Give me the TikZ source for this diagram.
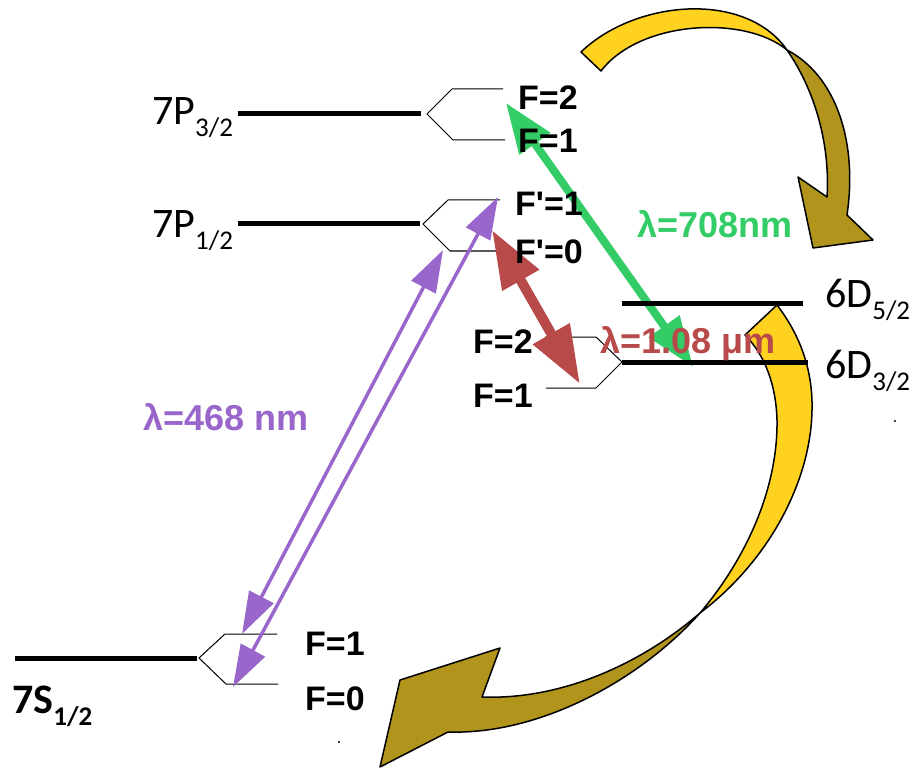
\documentclass[tikz,border=0pt]{standalone}
\usepackage{fontspec}
\setmainfont{Liberation Sans}[Ligatures=TeXOff]
\newfontfamily\calib{Carlito}
\usetikzlibrary{arrows.meta}
\definecolor{violetline}{RGB}{153,102,204}
\definecolor{greenline}{RGB}{51,204,102}
\definecolor{redline}{RGB}{184,74,74}
\definecolor{ribbontop}{RGB}{255,210,31}
\definecolor{ribbonunder}{RGB}{176,148,28}
\newcommand\lsub[1]{\raisebox{-12pt}{\fontsize{27}{27}\selectfont #1}}

\begin{document}
\begin{tikzpicture}[x=1pt,y=-1pt,
  level/.style={line width=5pt},
  fork/.style={line width=1pt, line join=miter},
  ribbon/.style={draw=black, line width=1.5pt, line join=round},
  flabel/.style={anchor=base west, inner sep=0pt, font=\fontsize{34}{40}\selectfont\bfseries},
  lvl/.style={anchor=base west, inner sep=0pt, font=\calib\fontsize{42}{48}\selectfont},
  wl/.style={anchor=base west, inner sep=0pt, font=\fontsize{36}{42}\selectfont\bfseries},
  violetarrow/.style={violetline, line width=3.5pt,
    {Triangle[length=42pt,width=27pt]}-{Triangle[length=42pt,width=27pt]}},
  redarrow/.style={redline, line width=10pt,
    {Triangle[length=58pt,width=40pt]}-{Triangle[length=58pt,width=40pt]}},
  greenarrow/.style={greenline, line width=8pt,
    {Triangle[length=50pt,width=36pt]}-{Triangle[length=50pt,width=36pt]}}]

\useasboundingbox (0,0) rectangle (921,770);

% ---- curved decay arrows (twisted ribbons) ----
% upper ribbon: 7P_{3/2} -> 6D_{5/2}
\fill[ribbontop, ribbon] (581,52) .. controls (635,0) and (745,-10) .. (787,50)
  .. controls (745,15) and (640,20) .. (601,71) -- cycle;
\fill[ribbonunder, ribbon] (787,50) .. controls (835,75) and (858,140) .. (847,215)
  -- (873,240) -- (813,248) -- (798,177) -- (827,197)
  .. controls (830,150) and (818,95) .. (787,50) -- cycle;
% lower ribbon: 6D -> 7S_{1/2}
\fill[ribbontop, ribbon] (777,305) .. controls (800,335) and (813,370) .. (812,410)
  .. controls (811,480) and (770,560) .. (700,613)
  .. controls (745,560) and (778,490) .. (777,420)
  .. controls (776,385) and (765,355) .. (745,335) -- cycle;
\fill[ribbonunder, ribbon] (700,613) .. controls (640,665) and (560,700) .. (482,697)
  -- (500,648) -- (400,680) -- (380,767) -- (448,732)
  .. controls (540,735) and (640,680) .. (700,613) -- cycle;

% ---- end points of the laser transitions ----
\coordinate (g1) at (506,103);
\coordinate (g2) at (693,367);
\coordinate (r1) at (492,230);
\coordinate (r2) at (580,384);
\coordinate (va1) at (242,634);
\coordinate (va2) at (443,250);
\coordinate (vb1) at (233,687);
\coordinate (vb2) at (498,197);

\draw[greenarrow] (g1) -- (g2);

% ---- fine-structure levels ----
\coordinate (p3a) at (238,114); \coordinate (p3b) at (421,114);
\coordinate (p1a) at (238,224); \coordinate (p1b) at (420,224);
\coordinate (d5a) at (622,303); \coordinate (d5b) at (803,303);
\coordinate (d3a) at (622,362); \coordinate (d3b) at (808,362);
\coordinate (s1a) at (15,658);  \coordinate (s1b) at (197,658);
\draw[level] (p3a) -- (p3b);
\draw[level] (p1a) -- (p1b);
\draw[level] (d5a) -- (d5b);
\draw[level] (d3a) -- (d3b);
\draw[level] (s1a) -- (s1b);

% ---- hyperfine splittings ----
\draw[fork] (503,89) -- (452,89) -- (427,114) -- (453,140) -- (505,140);
\draw[fork] (500,200) -- (448,200) -- (423,224) -- (450,251) -- (502,251);
\draw[fork] (545,337) -- (596,337) -- (622,362) -- (596,388) -- (546,388);
\draw[fork] (277,634) -- (225,634) -- (199,658) -- (226,684) -- (278,684);

% ---- laser transitions ----
\draw[redarrow] (r1) -- (r2);
\draw[violetarrow] (va1) -- (va2);
\draw[violetarrow] (vb1) -- (vb2);

% ---- level names ----
\node[lvl] (n7p3) at (152,125) {7P\lsub{3/2}};
\node[lvl] (n7p1) at (152,238) {7P\lsub{1/2}};
\node[lvl] (n6d5) at (825,307) {6D\lsub{5/2}};
\node[lvl] (n6d3) at (825,378) {6D\lsub{3/2}};
\node[lvl, font=\calib\bfseries\fontsize{42}{48}\selectfont] (n7s) at (12,713) {7S\lsub{1/2}};

% ---- hyperfine labels ----
\node[flabel] (fp2) at (518,110) {F=2};
\node[flabel] (fp1) at (518,153) {F=1};
\node[flabel] (fq1) at (515,215) {F'=1};
\node[flabel] (fq0) at (515,263) {F'=0};
\node[flabel] (fd2) at (473,353) {F=2};
\node[flabel] (fd1) at (473,407) {F=1};
\node[flabel] (fs1) at (305,655) {F=1};
\node[flabel] (fs0) at (305,710) {F=0};

% ---- wavelengths ----
\node[wl, text=greenline] (w708) at (637,237) {λ=708nm};
\node[wl, text=redline] (w108) at (600,353) {λ=1.08 μm};
\node[wl, text=violetline] (w468) at (143,430) {λ=468 nm};

% ---- small specks ----
\fill (895,421) circle (1.2);
\fill (339,742) circle (1.2);
\end{tikzpicture}
\end{document}
